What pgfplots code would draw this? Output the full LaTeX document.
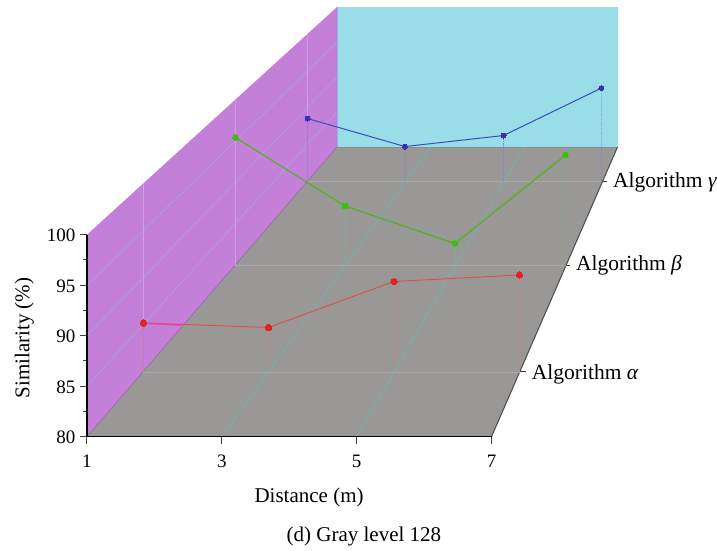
\documentclass[border=0pt]{standalone}
\usepackage{pgfplots}
\pgfplotsset{compat=1.18}
\usepackage{fontspec}
\setmainfont{Liberation Serif}
\definecolor{wallm}{HTML}{C47FD8}
\definecolor{wallc}{HTML}{99DDE9}
\definecolor{floorg}{HTML}{9A9897}
\definecolor{sred}{HTML}{E84A4A}
\definecolor{sgreen}{HTML}{4DB512}
\definecolor{sblue}{HTML}{3F4CB6}
\definecolor{mred}{HTML}{E02424}
\definecolor{mgreen}{HTML}{3CC012}
\definecolor{mblue}{HTML}{3A30B0}
\definecolor{gridw}{HTML}{A3A6E6}
\definecolor{gridf}{HTML}{6DB4B4}
\definecolor{spink}{HTML}{E8409A}
\definecolor{dred}{HTML}{C88080}
\definecolor{dgreen}{HTML}{78B878}
\definecolor{dblue}{HTML}{8A80CC}
\definecolor{dbluec}{HTML}{80B0E8}
\newcommand{\fs}[1]{\fontsize{#1}{#1}\selectfont}
\begin{document}
\begin{tikzpicture}
\path[use as bounding box] (-87pt,-113.3pt) rectangle (630pt,436.7pt);
\begin{axis}[
  x=67.42pt, y=10.1pt,
  xmin=1, xmax=7, ymin=80, ymax=100,
  clip=false,
  axis on top,
  axis lines=left,
  axis line style={-, line width=1.1pt, black},
  xtick={1,3,5,7},
  ytick={80,85,90,95,100},
  minor y tick num=1,
  tick align=outside,
  tick style={line width=1pt, black!75},
  major tick length=7pt,
  minor tick length=4pt,
  /pgf/number format/assume math mode=true,
  ticklabel style={font=\fs{19}},
  xticklabel style={yshift=-8pt},
  yticklabel style={xshift=-1pt, yshift=-1pt},
  label style={font=\fs{21}},
  xlabel={Distance (m)},
  ylabel={Similarity (\%)},
  xlabel style={at={(axis description cs:0.549,-0.325)},anchor=base},
  ylabel style={at={(axis description cs:-0.155,0.4885)},anchor=center},
]
% walls and floor
\addplot[fill=wallm, draw=none] coordinates {(1,100) (4.708,122.54) (4.708,108.68) (1,80)} -- cycle;
\addplot[fill=wallc, draw=none] coordinates {(4.708,122.54) (8.869,122.54) (8.869,108.68) (4.708,108.68)} -- cycle;
\addplot[fill=floorg, draw=none] coordinates {(1,80) (7,80) (8.869,108.68) (4.708,108.68)} -- cycle;
\addplot[draw=wallc!70!blue!80!white, line width=0.8pt] coordinates {(4.708,122.54) (4.708,108.68)};
\addplot[draw=black!45, line width=0.6pt] coordinates {(4.708,108.68) (8.869,108.68)};
\addplot[draw=wallm!75!black, line width=0.5pt] coordinates {(1,80) (4.708,108.68)};
\addplot[draw=black!70, line width=1pt] coordinates {(7,80) (8.869,108.68)};
% wall grid
\addplot[draw=gridw, line width=0.6pt] coordinates {(1,85) (4.708,112.15)};
\addplot[draw=gridw, line width=0.6pt] coordinates {(1,90) (4.708,115.61)};
\addplot[draw=gridw, line width=0.6pt] coordinates {(1,95) (4.708,119.03)};
\addplot[draw=wallm!75!white, line width=0.7pt] coordinates {(1.838,105.07) (1.838,91.257)};
\addplot[draw=wallm!75!white, line width=0.7pt] coordinates {(3.203,113.38) (3.203,97)};
\addplot[draw=wallm!75!white, line width=0.7pt] coordinates {(4.271,119.87) (4.271,111.5)};
% floor grid
\addplot[draw=gridf, line width=0.7pt] coordinates {(3,80) (6.095,108.68)};
\addplot[draw=gridf, line width=0.7pt] coordinates {(5,80) (7.482,108.68)};
\addplot[draw=floorg!85!white, line width=0.7pt] coordinates {(1.838,86.41) (7.42,86.41)};
\addplot[draw=floorg!85!white, line width=0.7pt] coordinates {(3.2,97) (8.1,97)};
\addplot[draw=floorg!85!white, line width=0.7pt] coordinates {(4.27,105.25) (8.64,105.25)};
% category ticks on the slanted edge
\addplot[draw=black!75, line width=1pt] coordinates {(7.42,86.41) (7.51,86.41)};
\addplot[draw=black!75, line width=1pt] coordinates {(8.1,97) (8.17,97)};
\addplot[draw=black!75, line width=1pt] coordinates {(8.64,105.25) (8.71,105.25)};
% drop lines
\addplot[dred, dashed, dash pattern=on 1.5pt off 1pt, line width=0.8pt] coordinates {(1.838,91.257) (1.838,86.41)};
\addplot[dred, dash pattern=on 1.5pt off 1pt, line width=0.8pt] coordinates {(3.692,90.81) (3.692,86.41)};
\addplot[dred, dash pattern=on 1.5pt off 1pt, line width=0.8pt] coordinates {(5.554,95.37) (5.554,86.41)};
\addplot[dred, dash pattern=on 1.5pt off 1pt, line width=0.8pt] coordinates {(7.415,96.01) (7.415,86.41)};
\addplot[dgreen, dash pattern=on 1.5pt off 1pt, line width=0.8pt] coordinates {(4.827,102.84) (4.827,97)};
\addplot[dgreen, dash pattern=on 1.5pt off 1pt, line width=0.8pt] coordinates {(6.458,99.13) (6.458,97)};
\addplot[dgreen, dash pattern=on 1.5pt off 1pt, line width=0.8pt] coordinates {(8.097,107.89) (8.097,97)};
\addplot[dblue, dash pattern=on 1.5pt off 1pt, line width=0.8pt] coordinates {(4.271,111.5) (4.271,105.25)};
\addplot[dblue, dash pattern=on 1.5pt off 1pt, line width=0.8pt] coordinates {(5.717,108.73) (5.717,105.25)};
\addplot[dblue, dash pattern=on 1.5pt off 1pt, line width=0.8pt] coordinates {(7.178,109.82) (7.178,105.25)};
\addplot[dbluec, dash pattern=on 1.5pt off 1pt, line width=0.8pt] coordinates {(8.631,114.52) (8.631,108.68)};
\addplot[dblue, dash pattern=on 1.5pt off 1pt, line width=0.8pt] coordinates {(8.631,108.68) (8.631,105.25)};
% series
\addplot[sblue, line width=1pt, mark=*, mark size=2.5pt, mark options={fill=mblue, draw=mblue, line width=0pt}] coordinates {(4.271,111.5) (5.717,108.73) (7.178,109.82) (8.631,114.52)};
\addplot[sgreen, line width=1.1pt, mark=*, mark size=2.9pt, mark options={fill=mgreen, draw=mgreen, line width=0pt}] coordinates {(3.203,109.62) (4.827,102.84) (6.458,99.13) (8.097,107.89)};
\addplot[sred, line width=0.9pt, mark=*, mark size=3.2pt, mark options={fill=mred, draw=mred, line width=0pt}] coordinates {(1.838,91.257) (3.692,90.81) (5.554,95.37) (7.415,96.01)};
\addplot[draw=spink, line width=1.3pt] coordinates {(1.9,91.22) (2.394,91.05)};
% labels
\node[font=\fs{21.5}, anchor=base west, inner sep=0pt] at (axis cs:8.80,104.69) {Algorithm \textit{γ}};
\node[font=\fs{21.5}, anchor=base west, inner sep=0pt] at (axis cs:8.253,96.5) {Algorithm \textit{β}};
\node[font=\fs{21.5}, anchor=base west, inner sep=0pt] at (axis cs:7.596,85.68) {Algorithm \textit{α}};
\node[font=\fs{21}, anchor=base, inner sep=0pt] at (axis cs:5.108,69.6) {(d) Gray level 128};
\end{axis}
\end{tikzpicture}
\end{document}
